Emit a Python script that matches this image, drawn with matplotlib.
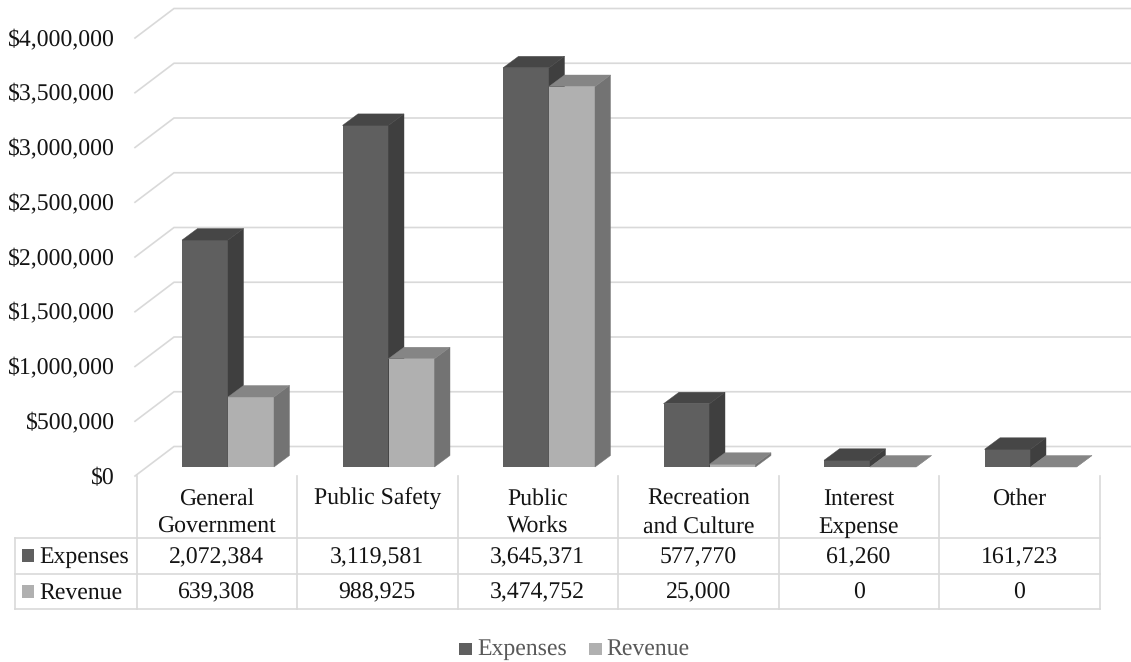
"""
Expenses vs revenue by function - 3D style column chart with data table
"""

import matplotlib
matplotlib.use('Agg')
import matplotlib.pyplot as plt
from matplotlib.patches import Polygon, Rectangle

matplotlib.rcParams['font.family'] = ['Liberation Serif', 'DejaVu Serif']
matplotlib.rcParams['text.hinting'] = 'none'

categories = [['General', 'Government'], ['Public Safety'], ['Public', 'Works'],
              ['Recreation', 'and Culture'], ['Interest', 'Expense'], ['Other']]
expenses = [2072384, 3119581, 3645371, 577770, 61260, 161723]
revenue = [639308, 988925, 3474752, 25000, 0, 0]
y_ticks = [0, 500000, 1000000, 1500000, 2000000, 2500000, 3000000, 3500000, 4000000]

W, H = 1131, 662
FONT = 17.1
TEXT = '#141414'
GRID = '#d9d9d9'
GRID_LW = 1.2

# pixel positions of the plot and table
LEFT, RIGHT = 136.5, 1099.5
BASE, TOP = 467.0, 29.0
PX_PER_CAT = (RIGHT - LEFT) / len(expenses)
PX_PER_USD = (BASE - TOP) / 4000000

BAR_W = 46 / PX_PER_CAT
BAR_START = 45.5 / PX_PER_CAT
DEPTH_X = 15.5 / PX_PER_CAT
DEPTH_Y = 11.5 / PX_PER_USD

FRONT = {'exp': '#5f5f5f', 'rev': '#b0b0b0'}
SIDE = {'exp': '#3f3f3f', 'rev': '#737373'}
ROOF = {'exp': '#464646', 'rev': '#858585'}

fig = plt.figure(figsize=(W / 100, H / 100), dpi=100, facecolor='white')

# overlay in pixel units for walls, labels and the table
bg = fig.add_axes([0, 0, 1, 1], zorder=0)
bg.set_xlim(0, W)
bg.set_ylim(H, 0)
bg.axis('off')

ax = fig.add_axes([LEFT / W, (H - BASE) / H, (RIGHT - LEFT) / W, (BASE - TOP) / H], zorder=1)
ax.set_xlim(0, len(expenses))
ax.set_ylim(0, 4000000)
ax.axis('off')
ax.patch.set_alpha(0)


def draw_column(x, value, key):
    """Front face plus side and roof parallelograms"""
    ax.bar(x, value, BAR_W, align='edge', color=FRONT[key], linewidth=0, clip_on=False)
    side = [(x + BAR_W, 0), (x + BAR_W + DEPTH_X, DEPTH_Y),
            (x + BAR_W + DEPTH_X, value + DEPTH_Y), (x + BAR_W, value)]
    roof = [(x, value), (x + DEPTH_X, value + DEPTH_Y),
            (x + BAR_W + DEPTH_X, value + DEPTH_Y), (x + BAR_W, value)]
    ax.add_patch(Polygon(side, closed=True, fc=SIDE[key], ec=SIDE[key], lw=0.3, clip_on=False))
    ax.add_patch(Polygon(roof, closed=True, fc=ROOF[key], ec=ROOF[key], lw=0.3, clip_on=False))


def label(x, y, s, ha='center', color=TEXT):
    """All text sits on a fixed baseline so descenders don't shift it"""
    bg.text(x, y, s, ha=ha, va='baseline', fontsize=FONT, color=color)


for i in range(len(expenses)):
    x0 = i + BAR_START
    draw_column(x0, expenses[i], 'exp')
    draw_column(x0 + BAR_W, revenue[i], 'rev')

# back wall gridlines and tick labels
for v in y_ticks:
    front_y = 476 - v * PX_PER_USD
    back_y = 446.5 - v * PX_PER_USD
    bg.plot([135, 174, W], [front_y, back_y, back_y], color=GRID, lw=GRID_LW,
            solid_joinstyle='miter', zorder=1)
    label(115, front_y + 8, f'${v:,}', ha='right')

# data table grid
ROW_Y = [538, 573.5, 608.5]
for y in ROW_Y:
    bg.plot([14.5, RIGHT], [y, y], color=GRID, lw=GRID_LW, zorder=1)
bg.plot([14.5, 14.5], [ROW_Y[0], ROW_Y[2]], color=GRID, lw=GRID_LW, zorder=1)
for i in range(len(expenses) + 1):
    x = LEFT + i * PX_PER_CAT
    bg.plot([x, x], [476, ROW_Y[2]], color=GRID, lw=GRID_LW, zorder=1)

# table contents
for i, lines in enumerate(categories):
    cx = LEFT + (i + 0.5) * PX_PER_CAT
    for j, line in enumerate(lines):
        label(cx, 505 + j * 28, line)
    label(cx, 563, f'{expenses[i]:,}')
    label(cx, 598.5, f'{revenue[i]:,}')

# table row keys
bg.add_patch(Rectangle((22, 549), 12, 12.5, fc=FRONT['exp'], lw=0))
bg.add_patch(Rectangle((22, 585), 12, 12.5, fc=FRONT['rev'], lw=0))
label(39, 563, 'Expenses', ha='left')
label(39, 598.5, 'Revenue', ha='left')

# legend
LEGEND_GREY = '#595959'
bg.add_patch(Rectangle((459, 643), 12.5, 12, fc=FRONT['exp'], lw=0))
bg.add_patch(Rectangle((589, 643), 12.5, 12, fc=FRONT['rev'], lw=0))
label(477, 655, 'Expenses', ha='left', color=LEGEND_GREY)
label(606, 655, 'Revenue', ha='left', color=LEGEND_GREY)

fig.savefig('out.png', dpi=100)
plt.close(fig)
